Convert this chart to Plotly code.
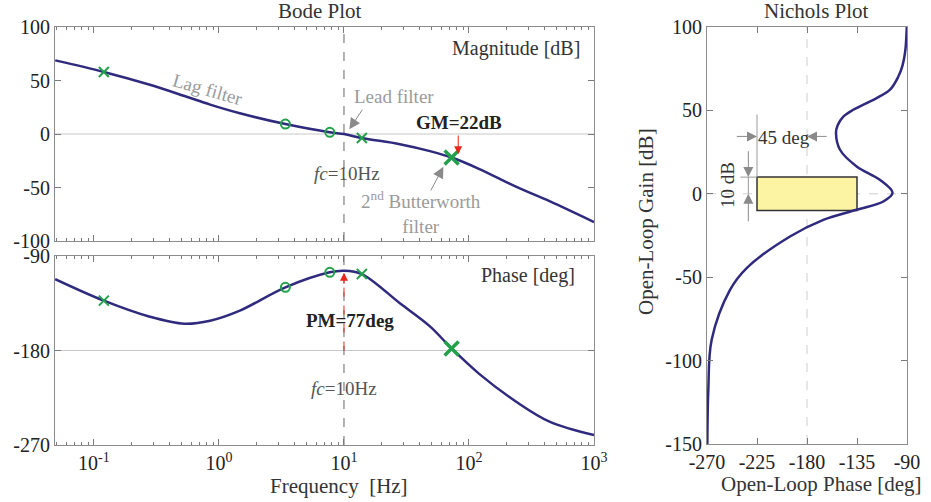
import numpy as np
import plotly.graph_objects as go

W, H = 931, 502
FONT = "Liberation Serif"

# ---------------- data ----------------
freq_hz = [0.049, 0.12, 0.28, 0.53, 0.85, 1.47, 3.4, 7.7, 10, 13.9, 28, 48.7, 72.6, 120, 240, 445, 1000]
magnitude_db = [68.8, 58, 46, 35.5, 27.5, 19.4, 9.3, 1.6, 0, -3.8, -9.5, -16, -22, -32.5, -49.5, -63, -82.3]
phase_deg = [-112, -132.5, -147.8, -154.5, -151.6, -142, -119.8, -105.5, -104, -107.2, -135, -157, -178,
             -202, -229, -248, -260.5]

cross_freq = [0.12, 13.9]
cross_mag = [58, -3.8]
cross_phase = [-132.5, -107.2]
circle_freq = [3.4, 7.7]
circle_mag = [9.3, 1.6]
circle_phase = [-119.8, -105.5]
bw_freq = [72.6]
bw_mag = [-22]
bw_phase = [-178]

fc_hz = 10
gm_freq = 82
gm_tip_db = -19
pm_tip_deg = -106
pm_tail_deg = -118

nichols_phase = [-90.2, -91.5, -94.0, -98.0, -105.3, -117.3, -126.3, -138.3, -147.3, -152.5, -153.9, -150.3,
                 -135.3, -114.5, -103.0, -111.3, -135.3, -165.3, -195.3, -234.3, -249.3, -265.8, -268.8, -269.7]
nichols_gain = [100, 86, 77, 70, 62.4, 57.4, 54.4, 50.4, 46.3, 41, 36.4, 26.4, 16.4, 8.4, 0.6, -4.6, -9.6, -15.6,
                -25.6, -44.5, -57.6, -87.5, -117.5, -150]

box_phase = [-225, -135]
box_gain = [-10, 10]

bode_xticks = [0.1, 1, 10, 100, 1000]
bode_xticktext = ["10<sup>-1</sup>", "10<sup>0</sup>", "10<sup>1</sup>", "10<sup>2</sup>", "10<sup>3</sup>"]
mag_ticks = [-100, -50, 0, 50, 100]
mag_ticktext = ["-100", "-50", "0", "50", "100"]
phase_ticks = [-270, -180, -90]
phase_ticktext = ["-270", "-180", "-90"]
nich_xticks = [-270, -225, -180, -135, -90]
nich_xticktext = ["-270", "-225", "-180", "-135", "-90"]
nich_yticks = [-150, -100, -50, 0, 50, 100]
nich_yticktext = ["-150", "-100", "-50", "0", "50", "100"]

# ---------------- styles ----------------
CURVE = "#2f2a7d"
GREEN = "#23a04b"
FRAME = "#8c8c8c"
TICK = "#7a7a7a"
GRAYTXT = "#9a9a9a"
RED = "#e8261c"


def px(x):
    return x / W


def py(y):
    return 1 - y / H


x_bode = [px(55), px(594)]
x_nich = [px(707), px(907)]
y_mag = [py(241), py(27)]
y_phase = [py(445), py(256)]
y_nich = [py(444), py(27)]

xmin_log = np.log10(0.0488)
minor_vals = [k * 10.0 ** e for e in range(-2, 3) for k in range(2, 10) if 0.0488 <= k * 10.0 ** e <= 1000]

fig = go.Figure()


def cross(x, y, xa, ya, size=10, width=2):
    return go.Scatter(x=x, y=y, mode="markers", xaxis=xa, yaxis=ya,
                      marker=dict(symbol="x-thin-open", size=size, color=GREEN, line=dict(color=GREEN, width=width)))


def ring(x, y, xa, ya):
    return go.Scatter(x=x, y=y, mode="markers", xaxis=xa, yaxis=ya,
                      marker=dict(symbol="circle-open", size=9, color=GREEN, line=dict(color=GREEN, width=2)))


# Bode magnitude
fig.add_trace(go.Scatter(x=[fc_hz, fc_hz], y=[mag_ticks[0], mag_ticks[-1]], mode="lines",
                         line=dict(color="#666", width=1, dash="dash"), xaxis="x", yaxis="y"))
fig.add_trace(go.Scatter(x=freq_hz, y=magnitude_db, mode="lines", line=dict(color=CURVE, width=2.5, shape="spline"),
                         xaxis="x", yaxis="y"))
fig.add_trace(cross(cross_freq, cross_mag, "x", "y"))
fig.add_trace(ring(circle_freq, circle_mag, "x", "y"))
fig.add_trace(cross(bw_freq, bw_mag, "x", "y", size=14, width=3.5))

# Bode phase
fig.add_trace(go.Scatter(x=[fc_hz, fc_hz], y=[phase_ticks[0], phase_ticks[-1]], mode="lines",
                         line=dict(color="#666", width=1, dash="dash"), xaxis="x2", yaxis="y2"))
fig.add_trace(go.Scatter(x=[fc_hz, fc_hz], y=[-180, pm_tail_deg], mode="lines",
                         line=dict(color=RED, width=1, dash="dash"), xaxis="x2", yaxis="y2"))
fig.add_trace(go.Scatter(x=freq_hz, y=phase_deg, mode="lines", line=dict(color=CURVE, width=2.5, shape="spline"),
                         xaxis="x2", yaxis="y2"))
fig.add_trace(cross(cross_freq, cross_phase, "x2", "y2"))
fig.add_trace(ring(circle_freq, circle_phase, "x2", "y2"))
fig.add_trace(cross(bw_freq, bw_phase, "x2", "y2", size=14, width=3.5))

# Nichols helper lines
ann_gray = "#9a9a9a"
fig.add_trace(go.Scatter(x=[box_phase[0], box_phase[0]], y=[box_gain[1], 47.5], mode="lines",
                         line=dict(color=ann_gray, width=1), xaxis="x3", yaxis="y3"))
fig.add_trace(go.Scatter(x=[-240, box_phase[0]], y=[box_gain[1], box_gain[1]], mode="lines",
                         line=dict(color=ann_gray, width=1), xaxis="x3", yaxis="y3"))
fig.add_trace(go.Scatter(x=[-232.8, -232.8], y=[box_gain[1], 0], mode="lines",
                         line=dict(color=ann_gray, width=1), xaxis="x3", yaxis="y3"))
fig.add_trace(go.Scatter(x=nichols_phase, y=nichols_gain, mode="lines",
                         line=dict(color=CURVE, width=2.5, shape="spline"), xaxis="x3", yaxis="y3"))

shapes = [
    dict(type="line", xref="x domain", yref="y", x0=0, x1=1, y0=0, y1=0, line=dict(color="#c8c8c8", width=1),
         layer="below"),
    dict(type="line", xref="x2 domain", yref="y2", x0=0, x1=1, y0=-180, y1=-180, line=dict(color="#c8c8c8", width=1),
         layer="below"),
    dict(type="rect", xref="x3", yref="y3", x0=box_phase[0], x1=box_phase[1], y0=box_gain[0], y1=box_gain[1],
         fillcolor="#fdf4a3", line=dict(color="#333", width=1.5), layer="below"),
    dict(type="line", xref="x3", yref="y3 domain", x0=-180, x1=-180, y0=0, y1=1,
         line=dict(color="#cfcfcf", width=1, dash="dash"), layer="below"),
    dict(type="line", xref="x3 domain", yref="y3", x0=0, x1=1, y0=0, y1=0,
         line=dict(color="#cfcfcf", width=1, dash="dash"), layer="below"),
]


def txt(x, y, text, size=20, color="#222", **kw):
    return dict(xref="paper", yref="paper", x=px(x), y=py(y), text=text, showarrow=False,
                font=dict(family=FONT, size=size, color=color), xanchor="center", yanchor="middle", **kw)


def arrow(xr, yr, x, y, ax, ay, color, size=2.0):
    return dict(xref=xr, yref=yr, axref=xr, ayref=yr, x=x, y=y, ax=ax, ay=ay, text="", showarrow=True,
                arrowhead=2, arrowsize=size, arrowwidth=1, arrowcolor=color, standoff=0, startstandoff=0)


L = np.log10
annotations = [
    txt(320, 11, "Bode Plot", size=21, color="#333"),
    txt(816, 11, "Nichols Plot", size=21, color="#333"),
    txt(516, 48, "Magnitude [dB]", size=20, color="#333"),
    txt(528, 275, "Phase [deg]", size=20, color="#333"),
    txt(208, 89, "Lag filter", size=19, color=GRAYTXT, textangle=16),
    txt(394, 96, "Lead filter", size=19, color=GRAYTXT),
    txt(459, 122, "<b>GM=22dB</b>", size=19, color="#222"),
    txt(347, 173, "<i>fc</i>=10Hz", size=19, color="#555"),
    txt(421, 212, "2<sup>nd</sup> Butterworth<br>filter", size=19, color=GRAYTXT),
    txt(350, 320, "<b>PM=77deg</b>", size=19, color="#222"),
    txt(344, 388, "<i>fc</i>=10Hz", size=19, color="#555"),
    txt(784, 137, "45 deg", size=19, color="#333"),
    txt(727, 185, "10 dB", size=19, color="#333", textangle=-90),
    txt(339, 486, "Frequency  [Hz]", size=21, color="#333"),
    txt(821, 484, "Open-Loop Phase [deg]", size=21, color="#333"),
    txt(646, 222, "Open-Loop Gain [dB]", size=21, color="#333", textangle=-90),
    # arrows
    arrow("x", "y", L(gm_freq), gm_tip_db, L(gm_freq), 0, RED, 1.6),
    arrow("x2", "y2", L(fc_hz), pm_tip_deg, L(fc_hz), pm_tail_deg, RED, 1.6),
    arrow("x", "y", 1.043, 4.4, 1.155, 24.1, "#8a8a8a", 2.2),
    arrow("x", "y", 1.795, -30.7, 1.688, -54.2, "#8a8a8a", 2.2),
    arrow("x3", "y3", -225, 34.4, -244.5, 34.4, "#8a8a8a", 2.0),
    arrow("x3", "y3", -180, 34.4, -161, 34.4, "#8a8a8a", 2.0),
    arrow("x3", "y3", -232.8, 10, -232.8, 26.4, "#8a8a8a", 2.0),
    arrow("x3", "y3", -232.8, 0, -232.8, -17.4, "#8a8a8a", 2.0),
]

common = dict(showline=True, linecolor=FRAME, linewidth=1, mirror="ticks", ticks="inside", tickcolor=TICK,
              ticklen=6, tickwidth=1, showgrid=False, zeroline=False, automargin=False, tickmode="array",
              tickfont=dict(family=FONT, size=20, color="#222"))
minor = dict(tickmode="array", tickvals=minor_vals, ticks="inside", ticklen=3, tickcolor=TICK, tickwidth=1,
             showgrid=False)

fig.update_layout(
    template="none",
    width=W, height=H, margin=dict(l=0, r=0, t=0, b=0, autoexpand=False),
    paper_bgcolor="white", plot_bgcolor="white", showlegend=False, hovermode=False,
    xaxis=dict(type="log", range=[xmin_log, 3], domain=x_bode, anchor="y", tickvals=bode_xticks,
               showticklabels=False, minor=minor, **common),
    yaxis=dict(range=[-100, 100], domain=y_mag, anchor="x", tickvals=mag_ticks, ticktext=mag_ticktext, **common),
    xaxis2=dict(type="log", range=[xmin_log, 3], domain=x_bode, anchor="y2", tickvals=bode_xticks,
                ticktext=bode_xticktext, minor=minor, **common),
    yaxis2=dict(range=[-270, -90], domain=y_phase, anchor="x2", tickvals=phase_ticks, ticktext=phase_ticktext,
                **common),
    xaxis3=dict(range=[-270, -90], domain=x_nich, anchor="y3", tickvals=nich_xticks, ticktext=nich_xticktext,
                **common),
    yaxis3=dict(range=[-150, 100], domain=y_nich, anchor="x3", tickvals=nich_yticks, ticktext=nich_yticktext,
                **common),
    shapes=shapes, annotations=annotations,
)

# remove the browser's default 8 px page margin so the 931x502 figure fills the window exactly
fig.write_html("out.html", config={"displayModeBar": False, "staticPlot": True},
               post_script="document.body.style.margin='0px';document.body.style.overflow='hidden';")
